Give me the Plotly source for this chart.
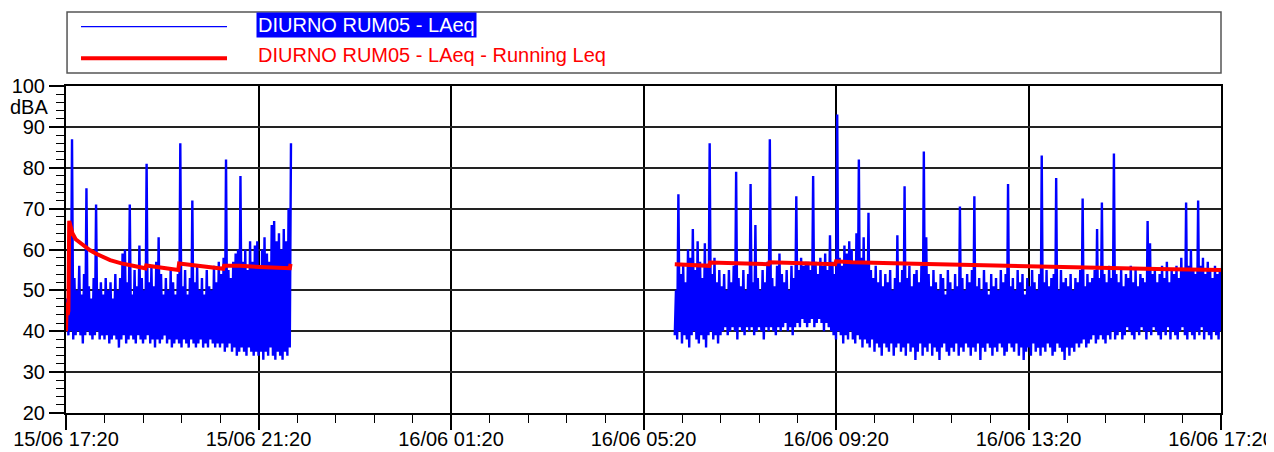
import plotly.graph_objects as go
import pandas as pd

# --- dati (LAeq, campioni ogni 3 minuti: minimo / massimo) ---
seg1_start = "2021-06-15 17:20"
seg1_low = [40, 39, 40, 38, 39, 40, 39, 37, 39, 40, 39, 38, 39, 40, 38, 39,
            38, 39, 37, 38, 39, 38, 36, 38, 39, 37, 38, 39, 38, 37, 39, 38,
            37, 38, 39, 37, 38, 36, 38, 37, 38, 39, 37, 38, 36, 37, 38, 37,
            36, 38, 37, 36, 38, 37, 36, 37, 38, 36, 37, 36, 38, 37, 36, 37,
            36, 37, 35, 36, 37, 35, 36, 34, 35, 36, 35, 34, 36, 35, 34, 35,
            34, 35, 33, 35, 34, 36, 34, 33, 35, 34, 33, 35, 34, 36]
seg1_high = [48, 55, 87, 53, 50, 56, 49, 54, 75, 51, 48, 53, 71, 50, 52, 49,
             53, 50, 52, 48, 54, 50, 53, 59, 60, 52, 71, 49, 55, 51, 61, 53,
             50, 81, 52, 56, 51, 57, 63, 54, 49, 53, 50, 55, 52, 49, 54, 86,
             51, 55, 49, 53, 72, 52, 56, 50, 53, 49, 55, 51, 50, 56, 52, 57,
             54, 58, 82, 55, 53, 57, 59, 60, 78, 57, 60, 55, 62, 57, 61, 62,
             56, 60, 63, 59, 57, 66, 67, 62, 64, 60, 65, 62, 70, 86]

seg2_start = "2021-06-16 05:59"
seg2_low = [39, 38, 40, 37, 39, 38, 36, 39, 40, 38, 37, 39, 38, 36, 39, 40, 38, 39, 37, 39,
            40, 41, 39, 40, 41, 40, 38, 41, 40, 39, 41, 40, 41, 39, 40, 41, 40, 38, 41, 40,
            41, 40, 39, 41, 40, 41, 42, 40, 41, 39, 41, 42, 41, 43, 42, 41,
            42, 43, 41, 42, 43, 42, 40, 42, 41, 40, 39, 38, 40, 39, 37, 39,
            38, 40, 38, 37, 39, 38, 36, 38, 37, 36, 38, 35, 37, 36, 34, 37,
            36, 35, 37, 34, 36, 37, 35, 36, 34, 37, 35, 36, 33, 35, 37, 34,
            36, 35, 37, 34, 36, 35, 33, 36, 37, 35, 34, 36, 35, 37, 34, 36,
            35, 37, 36, 34, 36, 35, 37, 33, 36, 35, 37, 36, 34, 36, 35, 37,
            36, 34, 35, 37, 36, 35, 37, 34, 36, 33, 35, 36, 34, 37, 35, 36,
            34, 36, 35, 37, 36, 34, 35, 37, 36, 35, 33, 36, 34, 36, 35, 37,
            36, 37, 38, 36, 37, 38, 39, 37, 38, 39, 38, 37, 39, 38, 40, 38,
            39, 40, 38, 39, 41, 40, 39, 38, 40, 39, 41, 40, 38, 40, 39, 41,
            40, 39, 38, 40, 39, 41, 38, 40, 39, 38, 40, 41, 39, 38, 40, 39,
            38, 40, 39, 41, 38, 40, 39, 38, 40, 39, 38, 40]
seg2_high = [50, 73.5, 54, 56, 52, 60, 58, 65, 55, 62, 57, 53, 61.5, 56, 86, 54, 58, 52, 55, 51,
             54, 50, 55, 52, 56, 79, 53, 51, 55, 50, 54, 76, 52, 66, 53, 50, 55, 52, 57, 87,
             53, 51, 56, 59, 54, 52, 55, 50, 56, 53, 73, 55, 58, 56, 57, 57,
             55, 78, 57, 54, 58, 56, 59, 55, 63.5, 57, 54, 93, 58, 56, 61, 59,
             62, 60, 57, 64, 82, 58, 63, 57, 69, 55, 53, 56, 52, 55, 51, 54,
             52, 55, 50, 53, 63.5, 52, 55, 75.5, 53, 56, 51, 54, 55, 52, 56, 84,
             63, 54, 51, 55, 52, 50, 54, 53, 49, 55, 52, 50, 54, 51, 70.5, 53,
             50, 54, 52, 55, 73, 51, 53, 50, 55, 52, 49, 54, 51, 53, 50, 55,
             52, 54, 76, 51, 53, 50, 55, 52, 54, 49, 53, 51, 55, 52, 50, 54,
             83, 52, 55, 51, 53, 54, 77.5, 50, 55, 52, 53, 51, 54, 50, 53, 52,
             55, 72.5, 51, 54, 52, 53, 55, 65, 53, 71.5, 54, 52, 56, 53, 83.5, 54,
             52, 55, 51, 54, 53, 56, 52, 55, 51, 54, 53, 52, 67, 61.5, 54, 55,
             52, 54, 56, 53, 57, 52, 55, 54, 56, 53, 58, 55, 71.5, 56, 60, 55,
             54, 72, 56, 58, 54, 57, 55, 53, 56, 54, 55, 57.5]

# Running Leq
run1_time = ["2021-06-15 17:20", "2021-06-15 17:21", "2021-06-15 17:22", "2021-06-15 17:23",
             "2021-06-15 17:24", "2021-06-15 17:26", "2021-06-15 17:28", "2021-06-15 17:32",
             "2021-06-15 17:38", "2021-06-15 17:44", "2021-06-15 17:50", "2021-06-15 17:57",
             "2021-06-15 18:06", "2021-06-15 18:15", "2021-06-15 18:29", "2021-06-15 18:48",
             "2021-06-15 18:59", "2021-06-15 19:00", "2021-06-15 19:17", "2021-06-15 19:40",
             "2021-06-15 19:41", "2021-06-15 20:07", "2021-06-15 20:36", "2021-06-15 20:37",
             "2021-06-15 20:57", "2021-06-15 21:22", "2021-06-15 21:59", "2021-06-15 22:00"]
run1_val = [40, 47, 44, 45, 67, 65.5, 64, 62.5, 61.5, 60.7, 59.8, 59.0,
            58.1, 57.4, 56.6, 55.8, 55.4, 56.1, 55.6, 55.0, 56.6, 55.9,
            55.3, 56.0, 56.0, 55.7, 55.4, 56.5]
run2_time = ["2021-06-16 05:59", "2021-06-16 06:42", "2021-06-16 06:43", "2021-06-16 07:56",
             "2021-06-16 07:57", "2021-06-16 09:19", "2021-06-16 09:20", "2021-06-16 09:40",
             "2021-06-16 10:45", "2021-06-16 12:10", "2021-06-16 13:20", "2021-06-16 14:40",
             "2021-06-16 16:00", "2021-06-16 17:20"]
run2_val = [56.4, 56.0, 56.8, 56.4, 56.9, 56.4, 57.1, 56.9, 56.6, 56.2, 55.9, 55.6, 55.2, 55.0]

name_1 = "DIURNO RUM05 - LAeq"
name_2 = "DIURNO RUM05 - LAeq - Running Leq"
FONT = "Liberation Sans, Arial, sans-serif"


def zigzag(start, lows, highs):
    # ogni intervallo di 3 minuti: minimo poi massimo
    t = pd.date_range(start, periods=len(lows), freq="3min")
    xs, ys = [], []
    for ti, lo, hi in zip(t, lows, highs):
        xs += [ti, ti + pd.Timedelta(seconds=90)]
        ys += [lo, hi]
    return xs, ys


x1, y1 = zigzag(seg1_start, seg1_low, seg1_high)
x2, y2 = zigzag(seg2_start, seg2_low, seg2_high)
blue_x = x1 + [None] + x2
blue_y = y1 + [None] + y2
red_x = [pd.Timestamp(t) for t in run1_time] + [None] + [pd.Timestamp(t) for t in run2_time]
red_y = run1_val + [None] + run2_val

fig = go.Figure()
fig.add_trace(go.Scatter(x=blue_x, y=blue_y, mode="lines", name=name_1,
                         line=dict(color="#0000ff", width=2.4), connectgaps=False))
fig.add_trace(go.Scatter(x=red_x, y=red_y, mode="lines", name=name_2,
                         line=dict(color="#ff0000", width=4), connectgaps=False))

# legenda disegnata a mano (riquadro in alto)
fig.add_shape(type="rect", xref="paper", yref="paper", x0=0.0009, x1=1.0, y0=1.0398, y1=1.2263,
              line=dict(color="#555555", width=1.5), fillcolor="white", layer="below")
fig.add_shape(type="line", xref="paper", yref="paper", x0=0.013, x1=0.1394, y0=1.1813, y1=1.1813,
              line=dict(color="#0000ff", width=1.2))
fig.add_shape(type="line", xref="paper", yref="paper", x0=0.013, x1=0.1394, y0=1.0847, y1=1.0847,
              line=dict(color="#ff0000", width=4))
fig.add_annotation(xref="paper", yref="paper", x=0.1645, y=1.188, xanchor="left", yanchor="middle",
                   text=name_1, showarrow=False, bgcolor="#0000ff", borderpad=1,
                   font=dict(family=FONT, size=20, color="white"))
fig.add_annotation(xref="paper", yref="paper", x=0.1645, y=1.0948, xanchor="left", yanchor="middle",
                   text=name_2, showarrow=False,
                   font=dict(family=FONT, size=20, color="#ff0000"))
fig.add_annotation(xref="paper", yref="paper", x=-0.0139, y=0.935, xanchor="right", yanchor="middle",
                   text="dBA", showarrow=False, font=dict(family=FONT, size=20, color="black"))

# la pagina ha un margine di 8 px: figura 1266x444
fig.update_layout(
    width=1266, height=444,
    margin=dict(l=58, r=53, t=78, b=39),
    paper_bgcolor="white", plot_bgcolor="white",
    showlegend=False,
    font=dict(family=FONT, size=20, color="black"),
    xaxis=dict(
        type="date", automargin=False,
        range=["2021-06-15 17:20", "2021-06-16 17:20"],
        tick0="2021-06-15 17:20", dtick=4 * 3600 * 1000,
        tickformat="%d/%m %H:%M",
        ticks="outside", ticklen=15, tickwidth=1.5, tickcolor="black",
        ticklabelstandoff=-8,
        showgrid=True, gridcolor="black", gridwidth=1.5,
        showline=True, linecolor="black", linewidth=2, mirror=True,
        zeroline=False,
        minor=dict(dtick=48 * 60 * 1000, tick0="2021-06-15 17:20", ticks="outside",
                   ticklen=8, tickwidth=1.2, tickcolor="black", showgrid=False),
        tickfont=dict(family=FONT, size=20),
    ),
    yaxis=dict(
        automargin=False,
        range=[20, 100], dtick=10, tick0=20,
        ticks="outside", ticklen=15, tickwidth=1.5, tickcolor="black",
        showgrid=True, gridcolor="#222222", gridwidth=2,
        showline=True, linecolor="black", linewidth=2, mirror=True,
        zeroline=False,
        minor=dict(dtick=2, ticks="outside", ticklen=8, tickwidth=1.2,
                   tickcolor="black", showgrid=False),
        tickfont=dict(family=FONT, size=20),
    ),
)

fig.write_html("out.html")
